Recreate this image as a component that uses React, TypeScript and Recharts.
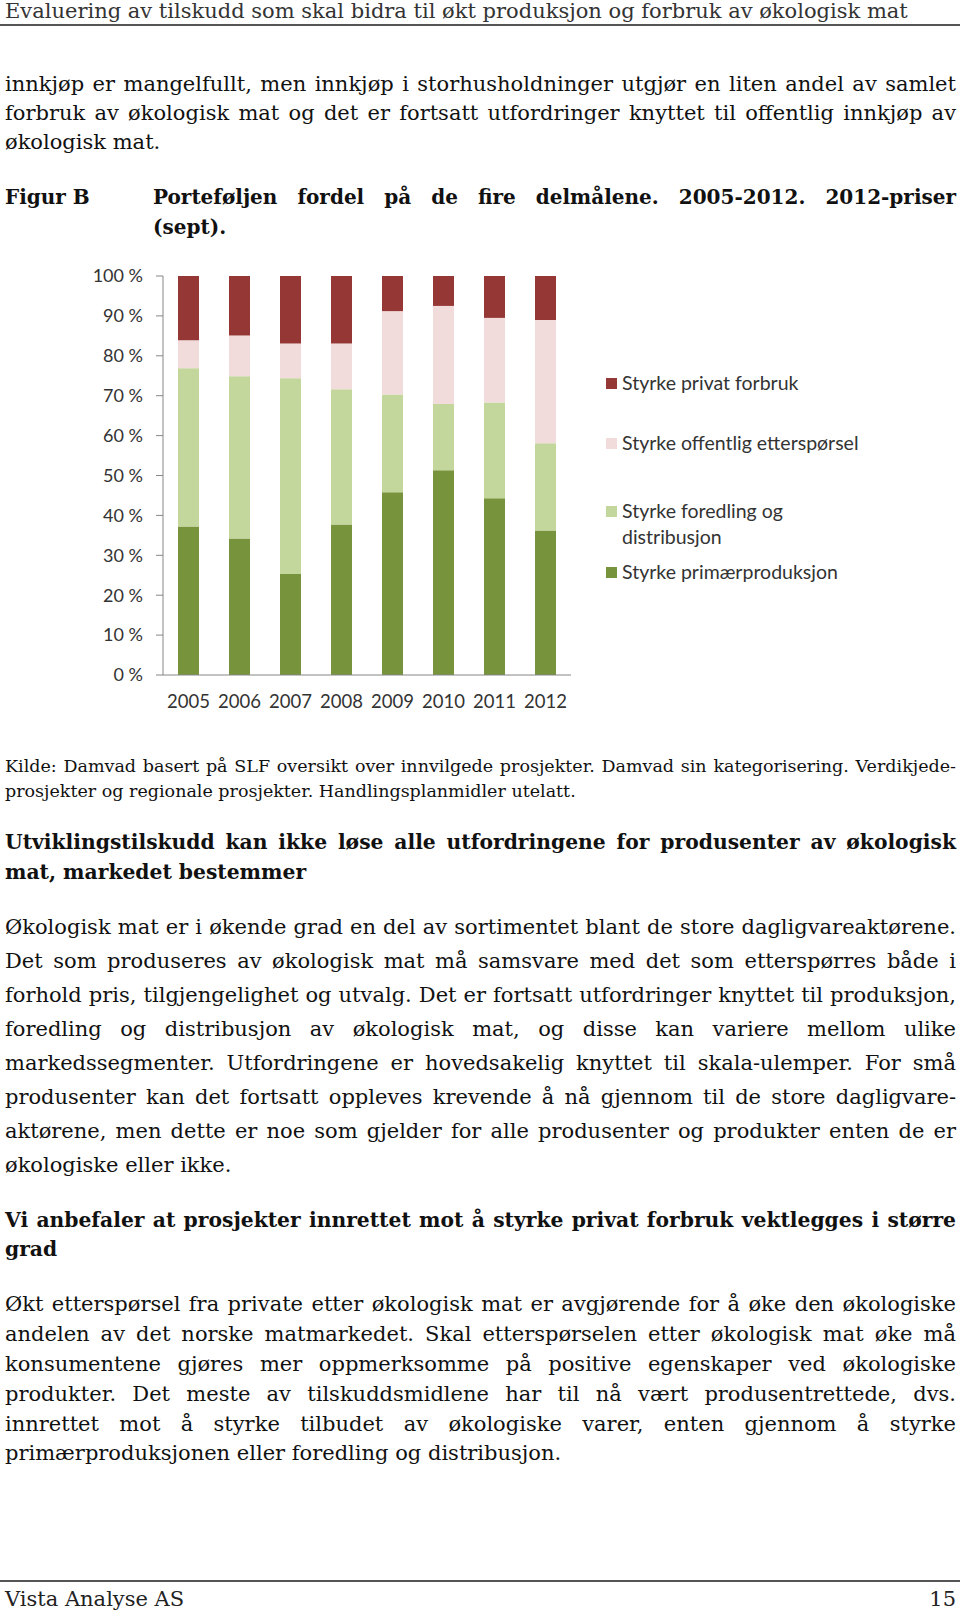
import { BarChart, Bar, XAxis, YAxis, Legend } from 'recharts'
import type { ReactNode } from 'react'

// Andel av porteføljen per delmål (prosent), lest av figuren
const years = ['2005', '2006', '2007', '2008', '2009', '2010', '2011', '2012']
const primaer = [37.2, 34.2, 25.3, 37.7, 45.8, 51.3, 44.3, 36.2]
const foredling = [39.7, 40.7, 49.1, 33.9, 24.5, 16.6, 24.0, 21.9]
const offentlig = [7.0, 10.2, 8.7, 11.5, 20.9, 24.6, 21.2, 30.9]
const privat = [16.1, 14.9, 16.9, 16.9, 8.8, 7.5, 10.5, 11.0]
const yTicks = [0, 10, 20, 30, 40, 50, 60, 70, 80, 90, 100]
const boundaryTicks = [0, 1, 2, 3, 4, 5, 6, 7, 8]

const series = [
  { key: 'primaer', name: 'Styrke primærproduksjon', color: '#77933C' },
  { key: 'foredling', name: 'Styrke foredling og distribusjon', color: '#C3D69B' },
  { key: 'offentlig', name: 'Styrke offentlig etterspørsel', color: '#F2DCDB' },
  { key: 'privat', name: 'Styrke privat forbruk', color: '#953735' },
]

const data = years.map((year, i) => ({
  year,
  primaer: primaer[i],
  foredling: foredling[i],
  offentlig: offentlig[i],
  privat: privat[i],
}))

const SERIF = '"DejaVu Serif", "Liberation Serif", serif'
const SANS = 'Lato, "Open Sans", sans-serif'
const AXIS = '#868686'

// top offsets of legend rows (top row first)
const LEGEND_TOPS = [0, 60, 128, 189]

function renderLegend(props: any) {
  const order = (name: string) => series.findIndex(s => s.name === name)
  const payload = [...(props.payload || [])].sort((a: any, b: any) => order(b.value) - order(a.value))
  return (
    <div style={{ position: 'relative', width: 330, height: 230, fontFamily: SANS, fontSize: 19.5, color: '#333' }}>
      {payload.map((p: any, i: number) => (
        <div key={p.value} style={{ position: 'absolute', left: 0, top: LEGEND_TOPS[i], display: 'flex', alignItems: 'flex-start' }}>
          <span style={{ display: 'inline-block', width: 11, height: 11, background: p.color, marginTop: 7, marginRight: 5, flex: 'none' }} />
          <span style={{ lineHeight: '26px', maxWidth: 252, marginTop: -1 }}>{p.value}</span>
        </div>
      ))}
    </div>
  )
}

interface LineProps {
  y: number
  size: number
  lh: number
  left?: number
  width?: number
  bold?: boolean
  justify?: boolean
  align?: 'left' | 'right'
  color?: string
  children: ReactNode
}

function Line({ y, size, lh, left = 5, width = 951, bold, justify, align = 'left', color = '#111', children }: LineProps) {
  return (
    <div
      style={{
        position: 'absolute',
        left,
        top: y - lh / 2,
        width,
        height: lh,
        lineHeight: `${lh}px`,
        fontFamily: SERIF,
        fontSize: size,
        fontWeight: bold ? 700 : 400,
        color,
        whiteSpace: 'nowrap',
        textAlign: justify ? 'justify' : align,
        textAlignLast: justify ? 'justify' : align,
      }}
    >
      {children}
    </div>
  )
}

const BODY = 21
const HEAD = 20.3

export default function App() {
  return (
    <div style={{ position: 'absolute', left: 0, top: 0, width: 960, height: 1617, background: '#fff', overflow: 'hidden' }}>
      <Line y={11} size={21} lh={24} color="#333">Evaluering av tilskudd som skal bidra til økt produksjon og forbruk av økologisk mat</Line>
      <div style={{ position: 'absolute', left: 0, top: 24, width: 960, height: 2, background: '#555' }} />

      <Line y={84} size={BODY} lh={29} justify>innkjøp er mangelfullt, men innkjøp i storhusholdninger utgjør en liten andel av samlet</Line>
      <Line y={113} size={BODY} lh={29} justify>forbruk av økologisk mat og det er fortsatt utfordringer knyttet til offentlig innkjøp av</Line>
      <Line y={142} size={BODY} lh={29}>økologisk mat.</Line>

      <Line y={197} size={20} lh={29} bold width={140}>Figur B</Line>
      <Line y={197} size={20} lh={29} bold justify left={153} width={803}>Porteføljen fordel på de fire delmålene. 2005-2012. 2012-priser</Line>
      <Line y={227} size={20} lh={29} bold left={153} width={803}>(sept).</Line>

      <div style={{ position: 'absolute', left: 0, top: 260 }}>
        <BarChart width={900} height={460} data={data} margin={{ top: 16, right: 329, bottom: 0, left: 0 }} barSize={21}>
          <YAxis
            domain={[0, 100]}
            ticks={yTicks}
            interval={0}
            width={163}
            tickSize={7}
            tickMargin={13}
            axisLine={{ stroke: AXIS }}
            tickLine={{ stroke: AXIS }}
            tickFormatter={(v: number) => `${v} %`}
            tick={{ fontFamily: SANS, fontSize: 18, fill: '#333' }}
          />
          <XAxis
            xAxisId="bounds"
            type="number"
            domain={[0, 8]}
            ticks={boundaryTicks}
            interval={0}
            height={8}
            tickSize={7}
            tick={false}
            axisLine={{ stroke: AXIS }}
            tickLine={{ stroke: AXIS }}
          />
          <XAxis
            xAxisId="cat"
            dataKey="year"
            height={37}
            axisLine={false}
            tickLine={false}
            tickSize={0}
            tickMargin={12}
            interval={0}
            tick={{ fontFamily: SANS, fontSize: 18.5, fill: '#333' }}
          />
          {series.map(s => (
            <Bar key={s.key} xAxisId="cat" dataKey={s.key} name={s.name} stackId="a" fill={s.color} isAnimationActive={false} />
          ))}
          <Legend
            layout="vertical"
            align="center"
            verticalAlign="middle"
            content={renderLegend}
            wrapperStyle={{ position: 'absolute', left: 606, top: 111, width: 330, height: 230 }}
          />
        </BarChart>
      </div>

      <Line y={766} size={17.5} lh={25} justify>Kilde: Damvad basert på SLF oversikt over innvilgede prosjekter. Damvad sin kategorisering. Verdikjede-</Line>
      <Line y={791} size={17.5} lh={25}>prosjekter og regionale prosjekter. Handlingsplanmidler utelatt.</Line>

      <Line y={842} size={HEAD} lh={30} bold justify>Utviklingstilskudd kan ikke løse alle utfordringene for produsenter av økologisk</Line>
      <Line y={872} size={HEAD} lh={30} bold>mat, markedet bestemmer</Line>

      <Line y={927} size={BODY} lh={34} justify>Økologisk mat er i økende grad en del av sortimentet blant de store dagligvareaktørene.</Line>
      <Line y={961} size={BODY} lh={34} justify>Det som produseres av økologisk mat må samsvare med det som etterspørres både i</Line>
      <Line y={995} size={BODY} lh={34} justify>forhold pris, tilgjengelighet og utvalg. Det er fortsatt utfordringer knyttet til produksjon,</Line>
      <Line y={1029} size={BODY} lh={34} justify>foredling og distribusjon av økologisk mat, og disse kan variere mellom ulike</Line>
      <Line y={1063} size={BODY} lh={34} justify>markedssegmenter. Utfordringene er hovedsakelig knyttet til skala-ulemper. For små</Line>
      <Line y={1097} size={BODY} lh={34} justify>produsenter kan det fortsatt oppleves krevende å nå gjennom til de store dagligvare-</Line>
      <Line y={1131} size={BODY} lh={34} justify>aktørene, men dette er noe som gjelder for alle produsenter og produkter enten de er</Line>
      <Line y={1165} size={BODY} lh={34}>økologiske eller ikke.</Line>

      <Line y={1220} size={HEAD} lh={29} bold justify>Vi anbefaler at prosjekter innrettet mot å styrke privat forbruk vektlegges i større</Line>
      <Line y={1249} size={HEAD} lh={29} bold>grad</Line>

      <Line y={1304} size={BODY} lh={30} justify>Økt etterspørsel fra private etter økologisk mat er avgjørende for å øke den økologiske</Line>
      <Line y={1334} size={BODY} lh={30} justify>andelen av det norske matmarkedet. Skal etterspørselen etter økologisk mat øke må</Line>
      <Line y={1364} size={BODY} lh={30} justify>konsumentene gjøres mer oppmerksomme på positive egenskaper ved økologiske</Line>
      <Line y={1394} size={BODY} lh={30} justify>produkter. Det meste av tilskuddsmidlene har til nå vært produsentrettede, dvs.</Line>
      <Line y={1424} size={BODY} lh={30} justify>innrettet mot å styrke tilbudet av økologiske varer, enten gjennom å styrke</Line>
      <Line y={1453} size={BODY} lh={30}>primærproduksjonen eller foredling og distribusjon.</Line>

      <div style={{ position: 'absolute', left: 0, top: 1580, width: 960, height: 2, background: '#555' }} />
      <Line y={1599} size={21} lh={26} color="#222">Vista Analyse AS</Line>
      <Line y={1599} size={21} lh={26} align="right" color="#222">15</Line>
    </div>
  )
}
